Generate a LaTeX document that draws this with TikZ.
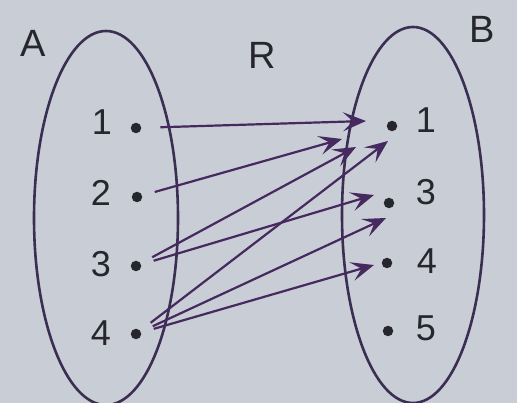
\documentclass[tikz,border=0pt]{standalone}
\usepackage{fontspec}
\setmainfont{Liberation Sans}
\usetikzlibrary{arrows.meta}
\definecolor{bg}{HTML}{C9CDD5}
\definecolor{ink}{HTML}{3A2E52}
\definecolor{arr}{HTML}{45295F}
\definecolor{txt}{HTML}{26262E}
\tikzset{
  setell/.style={draw=ink, line width=2.6pt},
  dotnode/.style={circle, fill=txt, inner sep=0pt, minimum size=10.5pt},
  num/.style={text=txt, font=\fontsize{36}{40}\selectfont, inner sep=0pt},
  setname/.style={text=txt, font=\fontsize{38}{42}\selectfont, inner sep=0pt},
  rel/.style={draw=arr, line width=2.2pt, shorten <=13pt,
    -{Stealth[length=23pt, width=19pt, inset=10pt]}},
}
\begin{document}
\begin{tikzpicture}[x=1pt, y=-1pt]
\fill[bg] (0,0) rectangle (517,403);
\useasboundingbox (0,0) rectangle (517,403);
% sets
\draw[setell] (106,218) ellipse [x radius=72, y radius=187];
\draw[setell] (413,215) ellipse [x radius=71, y radius=188];
\node[setname] (A) at (33,43) {A};
\node[setname] (R) at (262,55) {R};
\node[setname] (B) at (482,29) {B};
% elements of A
\node[dotnode] (a1) at (136,128) {};
\node[dotnode] (a2) at (137,197) {};
\node[dotnode] (a3) at (136,266) {};
\node[dotnode] (a4) at (136,334) {};
\node[num] (la1) at (102,122) {1};
\node[num] (la2) at (101,193) {2};
\node[num] (la3) at (101,264) {3};
\node[num] (la4) at (101,333) {4};
% elements of B
\node[dotnode] (b1) at (392,126) {};
\node[dotnode] (b3) at (389,203) {};
\node[dotnode] (b4) at (387,263) {};
\node[dotnode] (b5) at (388,331) {};
\node[num] (lb1) at (426,120) {1};
\node[num] (lb3) at (426,192) {3};
\node[num] (lb4) at (427,261) {4};
\node[num] (lb5) at (426,328) {5};
% arrow tips
\coordinate (t11) at (366,121);
\coordinate (t21) at (342,139);
\coordinate (t31) at (356,147);
\coordinate (t33) at (374,195);
\coordinate (t41) at (388,141);
\coordinate (t43) at (386,218);
\coordinate (t44) at (374,265);
% relation
\draw[rel, shorten <=19pt] (a1) -- (t11);
\draw[rel] (a2) -- (t21);
\draw[rel] (a3) -- (t31);
\draw[rel] (a3) -- (t33);
\draw[rel] (a4) -- (t41);
\draw[rel] (a4) -- (t43);
\draw[rel] (a4) -- (t44);
\end{tikzpicture}
\end{document}
